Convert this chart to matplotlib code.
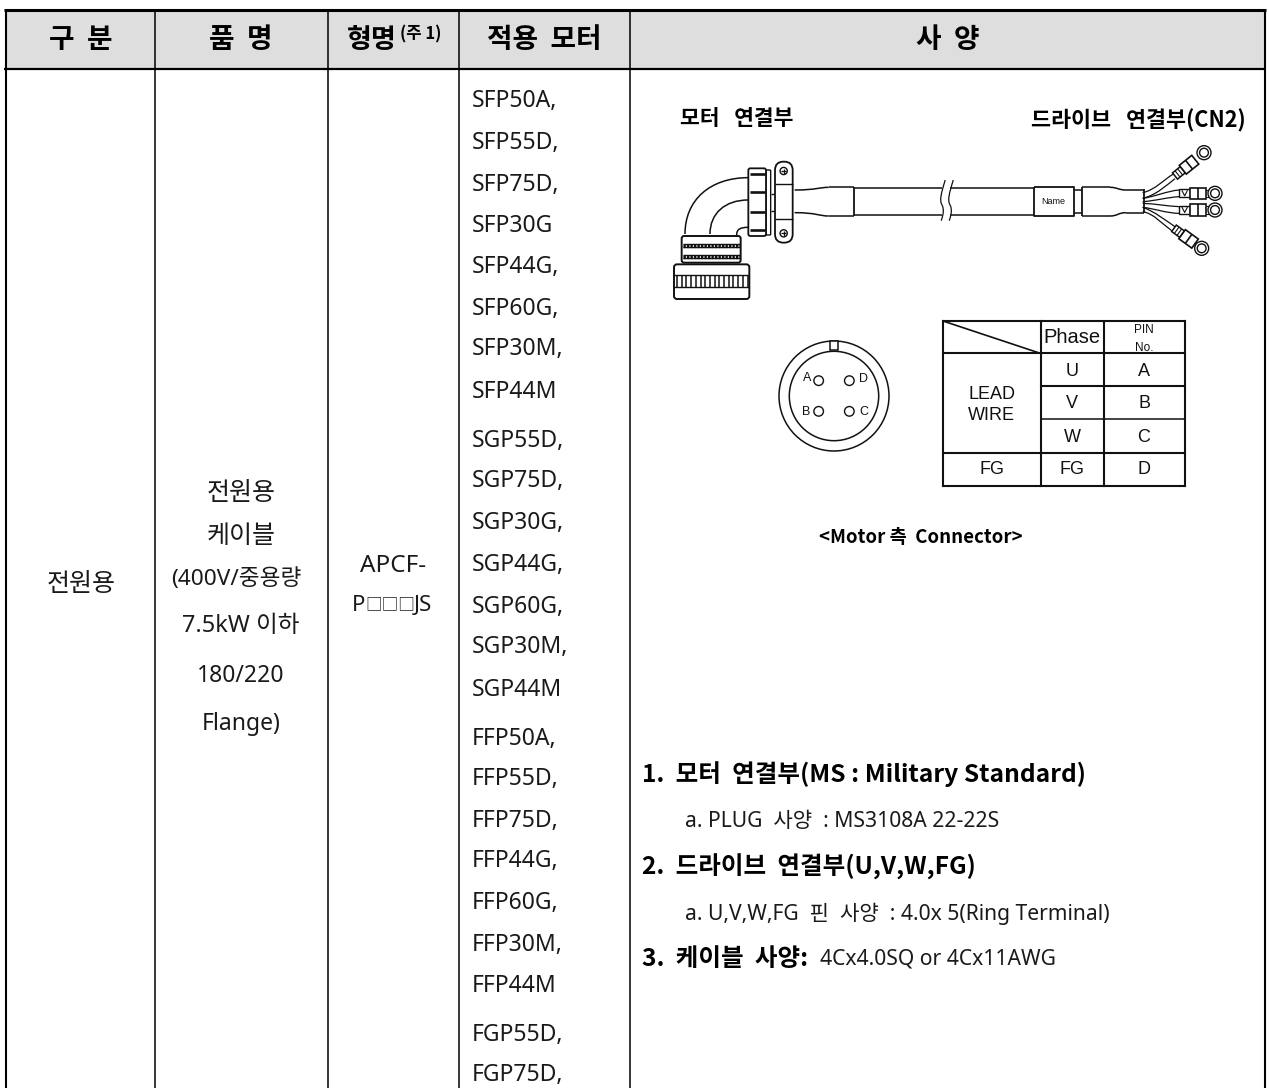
import numpy as np
import matplotlib
matplotlib.use("Agg")
import matplotlib.pyplot as plt
from matplotlib.patches import Rectangle, FancyBboxPatch, Circle, PathPatch
from matplotlib.path import Path

SANS = ['Noto Sans', 'Noto Sans CJK KR']
KR = ['Noto Sans CJK KR', 'Noto Sans']
DRAW = ['Liberation Sans', 'Noto Sans CJK KR']

headers = ['구  분', '품  명', '적용  모터', '사  양']
header_x = [81, 241, 544, 948]
col_lines = [155, 328, 459, 630]
category = '전원용'
product_lines = ['전원용', '케이블', '(400V/중용량', '7.5kW 이하', '180/220', 'Flange)']
product_sizes = [18, 18, 16.3, 17, 16.5, 16.5]
product_x = [241, 241, 236, 240.5, 241, 241]
product_y = [492, 535, 578, 624, 674, 722]
motors = ['SFP50A,', 'SFP55D,', 'SFP75D,', 'SFP30G', 'SFP44G,', 'SFP60G,', 'SFP30M,', 'SFP44M',
          'SGP55D,', 'SGP75D,', 'SGP30G,', 'SGP44G,', 'SGP60G,', 'SGP30M,', 'SGP44M',
          'FFP50A,', 'FFP55D,', 'FFP75D,', 'FFP44G,', 'FFP60G,', 'FFP30M,', 'FFP44M',
          'FGP55D,', 'FGP75D,']
motor_y = [100, 141, 183, 224, 266, 307, 348, 390, 439, 480, 522, 563, 605, 646, 688,
           737, 778, 819, 860, 902, 943, 985, 1033, 1074]
spec_bold = [('1.  모터  연결부(MS : Military Standard)', 642, 773),
             ('2.  드라이브  연결부(U,V,W,FG)', 642, 865),
             ('3.  케이블  사양:', 642, 957)]
spec_reg = [('a. PLUG  사양  : MS3108A 22-22S', 685, 820),
            ('a. U,V,W,FG  핀  사양  : 4.0x 5(Ring Terminal)', 685, 912),
            ('4Cx4.0SQ or 4Cx11AWG', 820, 958)]

W, H = 1269, 1088
fig = plt.figure(figsize=(W/100, H/100), dpi=100, facecolor='white')
ax = fig.add_axes([0, 0, 1, 1])
ax.set_xlim(0, W); ax.set_ylim(H, 0); ax.axis('off')

K = '#111111'
def T(x, y, s, size=14, ha='center', weight='normal', fam=SANS, color='#1a1a1a'):
    ax.text(x, y + 1.5, s, fontsize=size, ha=ha, va='center', fontweight=weight, family=fam, color=color, zorder=8)

def L(xs, ys, lw=1.0, c=K, **kw):
    ax.plot(xs, ys, color=c, lw=lw, solid_capstyle=kw.pop('cap', 'butt'), **kw)

# ---------- main table ----------
ax.add_patch(Rectangle((5, 10), 1260, 58, fc='#dedede', ec='none', zorder=0))
L([4, 1266], [10, 10], lw=2.2, c='black')
L([4, 1266], [68.5, 68.5], lw=1.6, c='black')
L([5.5, 5.5], [9, H], lw=1.5, c='black')
L([1265, 1265], [9, H], lw=1.5, c='black')
for x in col_lines:
    L([x, x], [10, H], lw=1.1, c='black')

for h, x in zip(headers, header_x):
    T(x, 39, h, size=20, weight='bold', fam=KR, color='black')
T(372, 38, '형명', size=19.5, weight='bold', fam=KR, color='black')
T(420.5, 33, '(주 1)', size=12, weight='bold', fam=KR, color='black')

T(81, 583, category, size=18)
for s, x, y, fs in zip(product_lines, product_x, product_y, product_sizes):
    T(x, y, s, size=fs)
T(393, 564, 'APCF-', size=17.5)
T(352, 604, 'P', size=16, ha='left')
T(365, 604, '□□□', size=12, ha='left')
T(414, 604, 'JS', size=16, ha='left')
for s, y in zip(motors, motor_y):
    T(472, y, s, size=16.5, ha='left')

for s, x, y in spec_bold:
    T(x, y, s, size=17.7, ha='left', weight='bold', fam=KR, color='black')
for s, x, y in spec_reg:
    T(x, y, s, size=15.2, ha='left')

T(680, 117, '모터   연결부', size=15.5, ha='left', weight='bold', fam=KR, color='black')
T(1031, 119, '드라이브   연결부(CN2)', size=15.7, ha='left', weight='bold', fam=KR, color='black')
T(921, 536, '<Motor 측  Connector>', size=13.4, weight='bold', fam=KR, color='black')

# ---------- cable drawing ----------
def bez(pts, lw=1.1, c=K, fc='none', z=3):
    verts = [p for p in pts]
    codes = [Path.MOVETO] + [Path.CURVE4] * (len(verts) - 1)
    ax.add_patch(PathPatch(Path(verts, codes), fc=fc, ec=c, lw=lw, zorder=z))

def z6(x, y):
    return 660 + x/3, 150 + y/3

def rrect(x0, y0, x1, y1, r=2, lw=1.0, fc='white', z=3):
    ax.add_patch(FancyBboxPatch((x0+r, y0+r), x1-x0-2*r, y1-y0-2*r,
                                boxstyle=f'round,pad={r},rounding_size={r}',
                                fc=fc, ec=K, lw=lw, zorder=z))

def rz6(x0, y0, x1, y1, r=2, lw=1.0, fc='white', z=3):
    a = z6(x0, y0); b = z6(x1, y1)
    rrect(a[0], a[1], b[0], b[1], r, lw, fc, z)

bez([z6(265, 83), z6(150, 83), z6(75, 150), z6(75, 252)])
bez([z6(265, 150), z6(195, 150), z6(150, 190), z6(150, 252)])
bez([z6(265, 232), z6(240, 232), z6(230, 238), z6(230, 255)])
rz6(318, 60, 332, 255, r=1)
rz6(265, 55, 318, 258, r=2, lw=1.3)
for y in [72, 127, 185, 240]:
    a = z6(270, y); b = z6(315, y)
    L([a[0], b[0]], [a[1], b[1]], lw=1.9, zorder=4)
for y in [132, 183]:
    a = z6(332, y); b = z6(345, y)
    L([a[0], b[0]], [a[1], b[1]], lw=1.0)
rz6(345, 35, 398, 278, r=8.5, lw=1.3, z=4)
for y in [103, 208]:
    a = z6(345, y); b = z6(398, y)
    L([a[0], b[0]], [a[1], b[1]], lw=1.0, zorder=5)
for y in [63, 250]:
    c = z6(371, y)
    ax.add_patch(Circle(c, 3.6, fc='white', ec=K, lw=1.0, zorder=5))
    L([c[0]-2.5, c[0]+2.5], [c[1], c[1]], lw=0.9, zorder=6)
    L([c[0], c[0]], [c[1]-2.5, c[1]+2.5], lw=0.9, zorder=6)
rz6(65, 258, 242, 338, r=2.5, lw=1.4)
for y in [283, 316]:
    a = z6(68, y); b = z6(240, y)
    L([a[0], b[0]], [a[1], a[1]], lw=1.0, zorder=4)
    L([a[0], b[0]], [a[1]+3, a[1]+3], lw=1.0, zorder=4)
    ax.plot([a[0], b[0]], [a[1]+1.5, a[1]+1.5], color=K, lw=2.4, ls=(0, (0.7, 0.35)), zorder=4)
rz6(42, 343, 268, 447, r=3, lw=1.4)
a = z6(42, 375); b = z6(268, 410)
L([a[0], b[0]], [a[1], a[1]], lw=1.0, zorder=4)
L([a[0], b[0]], [b[1], b[1]], lw=1.0, zorder=4)
for x in np.arange(a[0] + 3, b[0], 4.7):
    L([x, x], [a[1], b[1]], lw=1.1, zorder=4)

def zc(x, y):
    return 640 + x/2.49, 90 + y/3

def lz(xs, ys, lw=1.1, **kw):
    P = [zc(x, y) for x, y in zip(xs, ys)]
    L([p[0] for p in P], [p[1] for p in P], lw=lw, **kw)

for y0, y1 in [(300, 292), (368, 378)]:
    bez([zc(385, y0), zc(440, y0), zc(445, y1), zc(470, y1)])
lz([470, 533], [292, 292]); lz([470, 533], [378, 378])
lz([533, 533], [292, 378], lw=1.3)
lz([533, 980], [295, 295]); lz([533, 980], [375, 375])
ax.add_patch(Rectangle(zc(752, 288), 20/2.49, 94/3, fc='white', ec='none', zorder=3.5))
for dx in [0, 20]:
    bez([zc(760+dx, 270), zc(750+dx, 310), zc(745+dx, 330), zc(752+dx, 345)], lw=0.9, z=4)
    bez([zc(752+dx, 345), zc(758+dx, 358), zc(755+dx, 375), zc(750+dx, 392)], lw=0.9, z=4)
lz([980, 1080, 1080, 980, 980], [292, 292, 378, 378, 292], lw=1.3)
T(zc(1030, 336)[0], zc(1030, 336)[1] - 1.5, 'Name', size=6.5, fam=DRAW, color=K)
lz([1100, 1100], [292, 378], lw=1.3)
lz([1100, 1170], [292, 292]); lz([1100, 1170], [378, 378])
bez([zc(1170, 292), zc(1190, 292), zc(1190, 300), zc(1210, 300)])
bez([zc(1170, 378), zc(1190, 378), zc(1190, 368), zc(1210, 368)])
lz([1210, 1255], [300, 300]); lz([1210, 1255], [368, 368])
lz([1255, 1255], [298, 370], lw=1.3)
lz([1080, 1100], [300, 300]); lz([1080, 1100], [370, 370])

def z5(x, y):
    return 1060 + x/3, 130 + y/3

wires = [
    [(248, 188), (285, 180), (310, 150), (340, 132)],
    [(248, 205), (290, 195), (320, 165), (345, 146)],
    [(248, 205), (285, 200), (320, 183), (358, 180)],
    [(248, 215), (290, 212), (320, 202), (358, 200)],
    [(248, 220), (290, 222), (320, 228), (358, 230)],
    [(248, 232), (285, 236), (320, 250), (358, 250)],
    [(248, 232), (285, 245), (315, 270), (345, 290)],
    [(248, 245), (280, 250), (305, 280), (335, 302)],
]
for w in wires:
    bez([z5(*p) for p in w], lw=0.9)

def terminal_h(yc):
    a = z5(358, yc-12); b = z5(390, yc+12)
    ax.add_patch(Rectangle(a, b[0]-a[0], b[1]-a[1], fc='white', ec=K, lw=1.0, zorder=4))
    L([a[0]+2.5, (a[0]+b[0])/2, b[0]-2.5], [a[1]+1, b[1]-1.5, a[1]+1], lw=0.8, zorder=5)
    a = z5(390, yc-17); b = z5(438, yc+17)
    ax.add_patch(Rectangle(a, b[0]-a[0], b[1]-a[1], fc='white', ec=K, lw=1.2, zorder=4))
    m = z5(414, yc)
    L([m[0], m[0]], [a[1], b[1]], lw=1.2, zorder=5)
    L([b[0], z5(448, yc)[0]], [a[1]+2, a[1]+2], lw=0.8)
    L([b[0], z5(448, yc)[0]], [b[1]-2, b[1]-2], lw=0.8)
    c = z5(465, yc)
    ax.add_patch(Circle(c, 7, fc='white', ec=K, lw=1.0, zorder=4))
    ax.add_patch(Circle(c, 4.4, fc='white', ec=K, lw=1.0, zorder=5))

terminal_h(190)
terminal_h(240)

def terminal_r(x0, y0, x1, y1):
    p0 = np.array(z5(x0, y0)); p1 = np.array(z5(x1, y1))
    d = p1 - p0; n = np.linalg.norm(d); d = d/n; t = np.array([-d[1], d[0]])
    def box(s0, s1, hw, lw=1.1, z=4):
        c = [p0+d*s0+t*hw, p0+d*s1+t*hw, p0+d*s1-t*hw, p0+d*s0-t*hw]
        ax.add_patch(plt.Polygon(c, closed=True, fc='white', ec=K, lw=lw, zorder=z))
    box(0, 10, 4)
    for s in [3.3, 6.6]:
        q0 = p0+d*s+t*4; q1 = p0+d*s-t*4
        L([q0[0], q1[0]], [q0[1], q1[1]], lw=0.8, zorder=5)
    box(10, 26, 5.6, lw=1.2)
    q0 = p0+d*18+t*5.6; q1 = p0+d*18-t*5.6
    L([q0[0], q1[0]], [q0[1], q1[1]], lw=1.2, zorder=5)
    ax.add_patch(Circle(p1, 7, fc='white', ec=K, lw=1.0, zorder=4))
    ax.add_patch(Circle(p1, 4.4, fc='white', ec=K, lw=1.0, zorder=5))

terminal_r(345, 138, 432, 68)
terminal_r(342, 295, 425, 355)

def z2(x, y):
    return 760 + x/3, 310 + y/3

c = z2(222, 258)
ax.add_patch(Circle(c, 55, fc='none', ec=K, lw=1.1, zorder=3))
ax.add_patch(Circle(c, 44.7, fc='none', ec=K, lw=1.1, zorder=3))
a = z2(210, 92); b = z2(235, 120)
ax.add_patch(Rectangle(a, b[0]-a[0], b[1]-a[1], fc='white', ec=K, lw=1.1, zorder=4))
for x, y in [(176, 212), (268, 212), (176, 304), (268, 304)]:
    ax.add_patch(Circle(z2(x, y), 4.8, fc='none', ec=K, lw=1.0, zorder=3))
for s, x, y in [('A', 140, 205), ('D', 310, 207), ('B', 138, 305), ('C', 312, 306)]:
    p = z2(x, y)
    T(p[0], p[1]-1.5, s, size=9, fam=DRAW, color=K)

def seg(x0, y0, x1, y1, lw=1.5):
    a = z2(x0, y0); b = z2(x1, y1)
    L([a[0], b[0]], [a[1], b[1]], lw=lw, cap='projecting', zorder=3)

seg(550, 33, 1275, 33); seg(550, 527, 1275, 527)
seg(550, 33, 550, 527); seg(1275, 33, 1275, 527)
seg(842, 33, 842, 527); seg(1032, 33, 1032, 527)
seg(550, 130, 1275, 130); seg(842, 228, 1275, 228)
seg(842, 328, 1275, 328, lw=1.1); seg(550, 428, 1275, 428)
seg(555, 35, 835, 128, lw=1.2)
phase_cells = [('U', 937, 182), ('V', 937, 280), ('W', 937, 380), ('FG', 937, 477), ('FG', 695, 477),
               ('A', 1152, 182), ('B', 1152, 280), ('C', 1152, 380), ('D', 1152, 477),
               ('LEAD', 695, 252), ('WIRE', 695, 316)]
for s, x, y in phase_cells:
    p = z2(x, y)
    T(p[0], p[1]-1, s, size=13, fam=DRAW, color=K)
p = z2(937, 83); T(p[0], p[1]-1.5, 'Phase', size=14.5, fam=DRAW, color=K)
p = z2(1152, 58); T(p[0], p[1]-0.5, 'PIN', size=8.5, fam=DRAW, color=K)
p = z2(1152, 110); T(p[0], p[1]-0.5, 'No.', size=8.5, fam=DRAW, color=K)

fig.savefig('out.png', dpi=100)
